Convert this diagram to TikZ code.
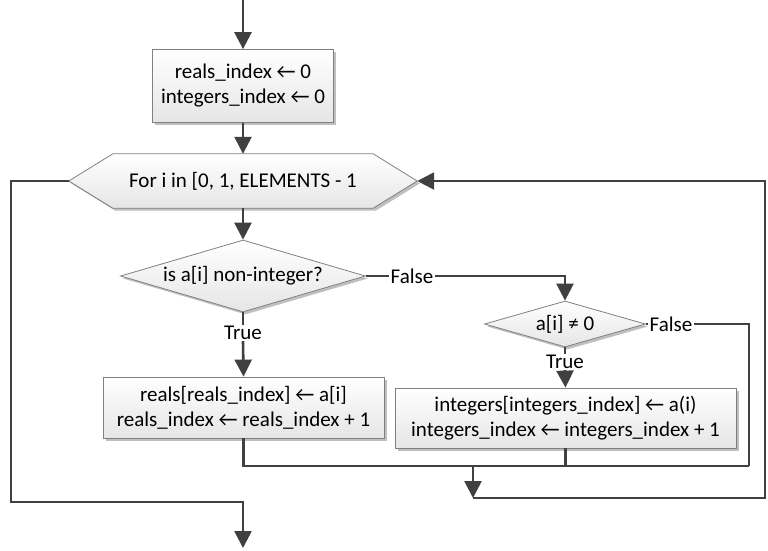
\documentclass[tikz,border=0pt]{standalone}
\usepackage{fontspec}
\setmainfont{Carlito}
\usetikzlibrary{arrows.meta,shapes.geometric,shadows,backgrounds,calc}

\tikzset{
	fshade/.style={draw=black!50,line width=0.8pt,top color=white,bottom color=black!10,
		drop shadow={shadow xshift=2.5pt,shadow yshift=-2.5pt,opacity=0.25,fill=black}},
	fbox/.style={fshade,rectangle,align=center,inner sep=0pt},
	fdec/.style={fshade,diamond,inner sep=0pt,aspect=3.4},
	flow/.style={draw=black!75,line width=2.6pt},
	fl/.style={flow,-{Triangle[length=17pt,width=17pt]}},
	lbl/.style={inner sep=1pt}
}

\begin{document}
\begin{tikzpicture}[x=1pt,y=-1pt,font=\fontsize{21}{25}\selectfont]
	\useasboundingbox (0,0) rectangle (768,550);
	\coordinate (start) at (243,0);
	\node[fbox,minimum width=181,minimum height=73] (init) at (243,86) {reals\_index ← 0\\integers\_index ← 0};
	\node[minimum width=348,minimum height=54,inner sep=0pt] (loop) at (243,181) {For i in [0, 1, ELEMENTS - 1};
	\begin{scope}[on background layer]
		\path[fshade] (loop.west) -- ($(loop.north west)+(44,0)$) -- ($(loop.north east)+(-44,0)$) -- (loop.east)
			-- ($(loop.south east)+(-44,0)$) -- ($(loop.south west)+(44,0)$) -- cycle;
	\end{scope}
	\node[fdec,minimum width=245,minimum height=72] (isreal) at (243,276) {is a[i] non-integer?};
	\node[fdec,minimum width=161,minimum height=46] (nonzero) at (565,324) {a[i] ≠ 0};
	\node[fbox,minimum width=281,minimum height=61] (reals) at (243.5,407.5) {reals[reals\_index] ← a[i]\\reals\_index ← reals\_index + 1};
	\node[fbox,minimum width=341,minimum height=60] (ints) at (565.5,418) {integers[integers\_index] ← a(i)\\integers\_index ← integers\_index + 1};
	\node[lbl] (f1) at (412,276) {False};
	\node[lbl] (t1) at (243,333) {True};
	\node[lbl] (f2) at (671,324) {False};
	\node[lbl] (t2) at (565,362) {True};
	\coordinate (join) at (749,466);
	\coordinate (merge) at (473,466);
	\coordinate (back) at (473,498);
	\coordinate (exit) at (243,548);

	\draw[fl] (start) -- (init);
	\draw[fl] (init) -- (loop);
	\draw[fl] (loop) -- (isreal);
	\draw[flow] (isreal.east) -- (f1.west);
	\draw[fl] (f1.east) -| (nonzero.north);
	\draw[flow] (isreal.south) -- (t1.north);
	\draw[fl] (t1.south) -- (reals.north);
	\draw[flow] (nonzero.east) -- (f2.west);
	\draw[flow] (nonzero.south) -- (t2.north);
	\draw[fl] (t2.south) -- (ints.north);
	\draw[flow] (f2.east) -| (join);
	\draw[flow] (reals.south) |- (join);
	\draw[flow] (ints.south) -- (ints.south |- join);
	\draw[fl] (merge) -- (back);
	\draw[fl] (back) -- ++(292,0) |- (loop.east);
	\draw[fl] (loop.west) -| (11,502) -| (exit);
\end{tikzpicture}
\end{document}
